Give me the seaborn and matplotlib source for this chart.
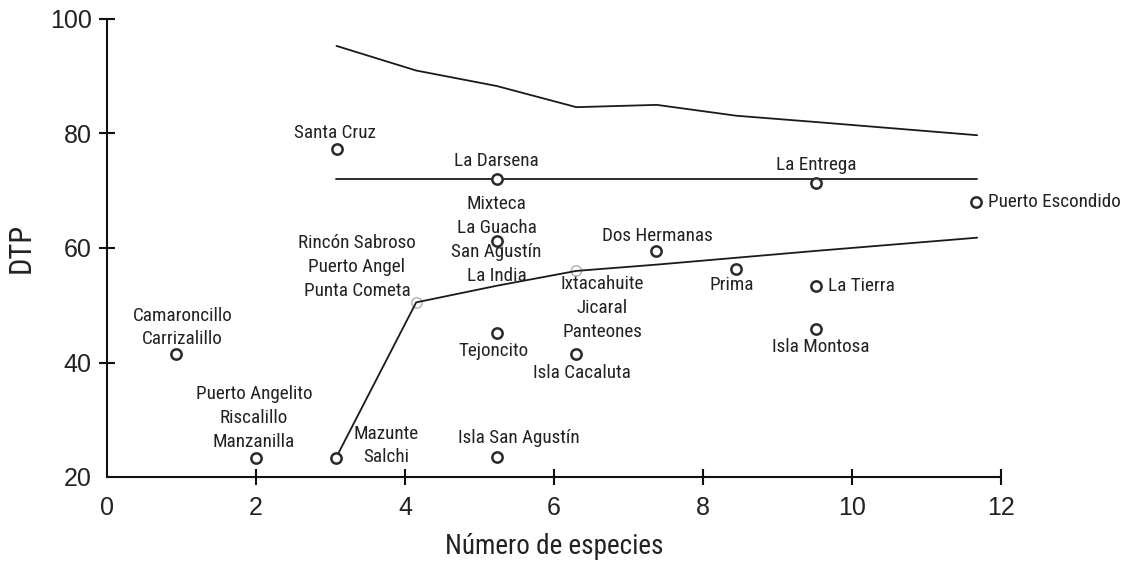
import numpy as np
import pandas as pd
import matplotlib
matplotlib.use("Agg")
import matplotlib.pyplot as plt
import seaborn as sns

# ---------------- data ----------------
site_labels = [
    "Camaroncillo\nCarrizalillo",
    "Puerto Angelito\nRiscalillo\nManzanilla",
    "Mazunte\nSalchi",
    "Santa Cruz",
    "Rincón Sabroso\nPuerto Angel\nPunta Cometa",
    "Mixteca\nLa Guacha\nSan Agustín\nLa India",
    "Tejoncito",
    "Isla San Agustín",
    "La Darsena",
    "Ixtacahuite\nJicaral\nPanteones",
    "Isla Cacaluta",
    "Dos Hermanas",
    "Prima",
    "La Entrega",
    "Puerto Escondido",
    "La Tierra",
    "Isla Montosa",
]
n_species = [0.93, 2.0, 3.08, 3.09, 4.16, 5.23, 5.23, 5.23, 5.23,
             6.30, 6.30, 7.37, 8.44, 9.52, 11.66, 9.52, 9.52]
dtp = [41.4, 23.4, 23.4, 77.3, 50.4, 61.2, 45.1, 23.5, 72.0,
       56.0, 41.5, 59.5, 56.3, 71.4, 68.1, 53.4, 45.9]
# points that sit on the lower limit line are drawn in light grey
on_limit = [False, False, False, False, True, False, False, False, False,
            True, False, False, False, False, False, False, False]

curve_x = [3.08, 4.15, 5.23, 6.30, 7.38, 8.45, 9.52, 11.68]
upper_dtp = [95.3, 91.0, 88.3, 84.6, 85.0, 83.1, 82.0, 79.7]
mean_dtp = [72.0, 72.0, 72.0, 72.0, 72.0, 72.0, 72.0, 72.0]
lower_dtp = [23.5, 50.5, 53.4, 56.0, 57.1, 58.3, 59.5, 61.8]

x_ticks = [0, 2, 4, 6, 8, 10, 12]
y_ticks = [20, 40, 60, 80, 100]

# label placement (offset in pixels, alignment)
label_pos = [
    (6, 6, "center", "bottom"),
    (-2, 7, "center", "bottom"),
    (50, 12, "center", "center"),
    (-2, 16, "center", "center"),
    (-60, 36, "center", "center"),
    (0, 1, "center", "center"),
    (-3, -18, "center", "center"),
    (22, 19, "center", "center"),
    (0, 18, "center", "center"),
    (26, -37, "center", "center"),
    (6, -19, "center", "center"),
    (1, 15, "center", "center"),
    (-4, -16, "center", "center"),
    (0, 18, "center", "center"),
    (12, 0, "left", "center"),
    (12, 0, "left", "center"),
    (5, -18, "center", "center"),
]

df = pd.DataFrame({"Especies": n_species, "DTP": dtp, "gris": on_limit})
curves = pd.DataFrame({"x": curve_x, "upper": upper_dtp,
                       "mean": mean_dtp, "lower": lower_dtp})

# ---------------- plot ----------------
sns.set_style("ticks")
narrow = ["Liberation Sans Narrow", "Roboto Condensed", "DejaVu Sans"]
plt.rcParams["font.family"] = ["Liberation Sans", "DejaVu Sans"]

fig = plt.figure(figsize=(11.22, 5.64), dpi=100)
ax = fig.add_axes([107 / 1122, 1 - 477 / 564, 894 / 1122, 458 / 564])

for col in ["upper", "mean", "lower"]:
    sns.lineplot(data=curves, x="x", y=col, ax=ax, color="#1a1a1a",
                 linewidth=1.3, zorder=2)

sns.scatterplot(data=df[~df["gris"]], x="Especies", y="DTP", ax=ax,
                marker="o", s=55, facecolor="white", edgecolor="#2a2a2a",
                linewidth=1.8, zorder=3)
sns.scatterplot(data=df[df["gris"]], x="Especies", y="DTP", ax=ax,
                marker="o", s=55, facecolor="none", edgecolor="#b0b0b0",
                linewidth=1.0, zorder=1)

for lab, x, y, (dx, dy, ha, va) in zip(site_labels, n_species, dtp, label_pos):
    ax.annotate(lab, (x, y), xytext=(dx, dy), textcoords="offset pixels",
                ha=ha, va=va, fontsize=13.8, family=narrow, color="#222222",
                linespacing=1.42, multialignment="center", annotation_clip=False)

ax.set_xlim(0, 12)
ax.set_ylim(20, 100)
ax.set_xticks(x_ticks)
ax.set_yticks(y_ticks)
sns.despine(ax=ax)
for sp in ["left", "bottom"]:
    ax.spines[sp].set_linewidth(1.5)
    ax.spines[sp].set_color("#111111")
ax.tick_params(direction="inout", length=12, width=1.5, color="#111111",
               labelsize=18, labelcolor="#222222")
ax.tick_params(axis="x", pad=8)
ax.tick_params(axis="y", pad=5)
ax.xaxis.get_major_ticks()[0].tick1line.set_visible(False)
ax.yaxis.get_major_ticks()[0].tick1line.set_visible(False)

ax.set_xlabel("Número de especies", fontsize=19.5, family=narrow,
              color="#222222", labelpad=9)
ax.set_ylabel("DTP", fontsize=22, family=narrow, color="#222222",
              labelpad=10)

fig.savefig("out.png", dpi=100)
